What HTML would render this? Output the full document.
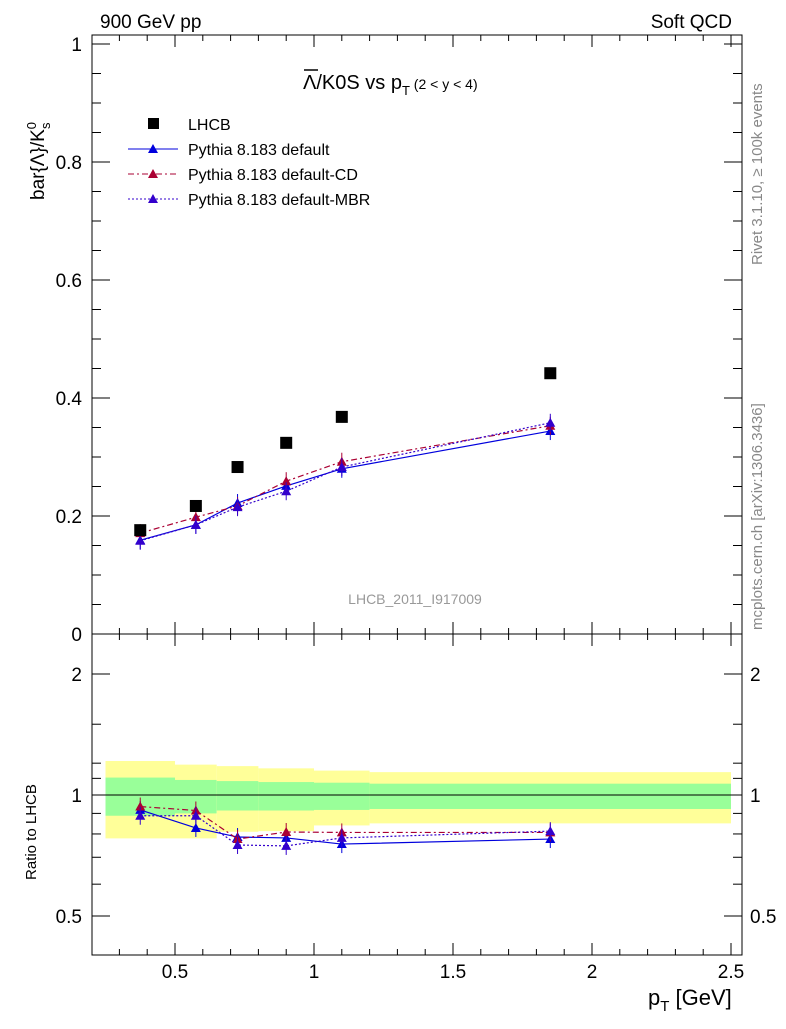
<!DOCTYPE html>
<html><head><meta charset="utf-8"><style>
body{margin:0;background:#fff;}
svg{font-family:"Liberation Sans",sans-serif;}
</style></head><body>
<svg id="c" width="786" height="1024" xmlns="http://www.w3.org/2000/svg"></svg>
<script>
const xCats=[0.375,0.575,0.725,0.9,1.1,1.85];
const lhcb=[0.176,0.217,0.283,0.324,0.368,0.442];
const pyDef=[0.159,0.185,0.222,0.251,0.280,0.344];
const pyCD=[0.171,0.198,0.217,0.259,0.292,0.353];
const pyMBR=[0.158,0.185,0.215,0.242,0.283,0.358];
const rDef=[0.918,0.828,0.786,0.782,0.755,0.777];
const rCD=[0.936,0.915,0.777,0.809,0.807,0.807];
const rMBR=[0.888,0.888,0.751,0.747,0.782,0.813];
const binEdges=[0.25,0.5,0.65,0.8,1.0,1.2,2.5];
const greenHi=[1.105,1.09,1.083,1.077,1.073,1.067];
const greenLo=[0.888,0.90,0.915,0.915,0.918,0.923];
const yellowHi=[1.215,1.19,1.18,1.165,1.15,1.14];
const yellowLo=[0.78,0.78,0.81,0.813,0.84,0.85];
const xTicks=[0.5,1,1.5,2,2.5];
const yTicks=[0,0.2,0.4,0.6,0.8,1];
const rTicks=[0.5,1,2];

const X=v=>36+278*v, Y=v=>634-590*v, R=v=>795-121*Math.log2(v);
const svg=document.getElementById('c');
function el(t,a,txt){const e=document.createElementNS('http://www.w3.org/2000/svg',t);for(const k in a)e.setAttribute(k,a[k]);if(txt!==undefined)e.textContent=txt;svg.appendChild(e);return e;}

for(let i=0;i<6;i++){
 let b=el('rect',{x:X(binEdges[i]),y:R(yellowHi[i]),width:X(binEdges[i+1])-X(binEdges[i]),height:R(yellowLo[i])-R(yellowHi[i]),fill:'#ffff99'});
 
 let g=el('rect',{x:X(binEdges[i]),y:R(greenHi[i]),width:X(binEdges[i+1])-X(binEdges[i]),height:R(greenLo[i])-R(greenHi[i]),fill:'#99ff99'});
 
}
el('line',{x1:92,x2:742,y1:R(1),y2:R(1),stroke:'#000','stroke-width':1});

let f1=el('rect',{x:92,y:35,width:650,height:599,fill:'none',stroke:'#000'});

let f2=el('rect',{x:92,y:634,width:650,height:321,fill:'none',stroke:'#000'});


xTicks.forEach(t=>{
 [[634,-12],[35,12],[955,-12],[634,12]].forEach(([y,d])=>el('line',{x1:X(t),x2:X(t),y1:y,y2:y+d,stroke:'#000'}));
 let l=el('text',{x:X(t),y:978,'font-size':19,'text-anchor':'middle'},String(t));
 
});
for(let v=0.3;v<2.5;v+=0.1){[[634,-6],[35,6],[955,-6],[634,6]].forEach(([y,d])=>el('line',{x1:X(v),x2:X(v),y1:y,y2:y+d,stroke:'#000'}));}
yTicks.forEach(t=>{
 el('line',{x1:92,x2:110,y1:Y(t),y2:Y(t),stroke:'#000'});el('line',{x1:742,x2:724,y1:Y(t),y2:Y(t),stroke:'#000'});
 let l=el('text',{x:82,y:Y(t)+7,'font-size':19,'text-anchor':'end'},t===0||t===1?String(t):t.toFixed(1));
 
});
for(let v=0.05;v<1;v+=0.05){el('line',{x1:92,x2:101,y1:Y(v),y2:Y(v),stroke:'#000'});el('line',{x1:742,x2:733,y1:Y(v),y2:Y(v),stroke:'#000'});}
rTicks.forEach(t=>{
 el('line',{x1:92,x2:110,y1:R(t),y2:R(t),stroke:'#000'});el('line',{x1:742,x2:724,y1:R(t),y2:R(t),stroke:'#000'});
 el('text',{x:82,y:R(t)+7,'font-size':19,'text-anchor':'end'},String(t));
 el('text',{x:750,y:R(t)+7,'font-size':19},String(t));
});
[0.6,0.7,0.8,0.9,1.1,1.2,1.5].forEach(v=>{el('line',{x1:92,x2:101,y1:R(v),y2:R(v),stroke:'#000'});el('line',{x1:742,x2:733,y1:R(v),y2:R(v),stroke:'#000'});});

function series(vals,fy,col,dash,name){
 let p=el('polyline',{points:xCats.map((x,i)=>X(x)+','+fy(vals[i])).join(' '),fill:'none',stroke:col,'stroke-width':1.2,'stroke-dasharray':dash});
 
 xCats.forEach((x,i)=>{const cx=X(x),cy=fy(vals[i]);
  el('line',{x1:cx,x2:cx,y1:cy-9,y2:cy+9,stroke:col});
  let t=el('polygon',{points:`${cx-5},${cy+4} ${cx+5},${cy+4} ${cx},${cy-5}`,fill:col});
  });
}
series(pyDef,Y,'#0000dd','none','pythia-default');
series(pyCD,Y,'#aa0033','6,3,2,3','pythia-cd');
series(pyMBR,Y,'#3300cc','2,2','pythia-mbr');
series(rDef,R,'#0000dd','none','ratio-default');
series(rCD,R,'#aa0033','6,3,2,3','ratio-cd');
series(rMBR,R,'#3300cc','2,2','ratio-mbr');
xCats.forEach((x,i)=>{let s=el('rect',{x:X(x)-6,y:Y(lhcb[i])-6,width:12,height:12,fill:'#000'});
 });

const lg=[['LHCB',null],['Pythia 8.183 default','#0000dd','none'],['Pythia 8.183 default-CD','#aa0033','6,3,2,3'],['Pythia 8.183 default-MBR','#3300cc','2,2']];
lg.forEach((l,i)=>{const y=124+25*i;
 if(!l[1]) el('rect',{x:148,y:y-6,width:11,height:11,fill:'#000'});
 else{el('line',{x1:128,x2:178,y1:y,y2:y,stroke:l[1],'stroke-dasharray':l[2]});el('polygon',{points:`148,${y+4} 158,${y+4} 153,${y-5}`,fill:l[1]});}
 let t=el('text',{x:188,y:y+6,'font-size':16},l[0]);
});

el('text',{x:100,y:28,'font-size':19},'900 GeV pp');
el('text',{x:732,y:28,'font-size':19,'text-anchor':'end'},'Soft QCD');
let ti=el('text',{x:303,y:89,'font-size':20},'');ti.innerHTML='Λ/K0S vs p<tspan font-size="13" dy="6">T</tspan><tspan font-size="14" dy="-6"> (2 &lt; y &lt; 4)</tspan>';

el('line',{x1:304,x2:318,y1:70,y2:70,stroke:'#000','stroke-width':1.5});
let yt=el('text',{transform:'translate(44,200) rotate(-90)','font-size':19},'');yt.innerHTML='bar{Λ}/K<tspan font-size="13" dy="-8">0</tspan><tspan font-size="13" dy="14" dx="-7">s</tspan>';

el('text',{transform:'translate(36,880) rotate(-90)','font-size':15},'Ratio to LHCB');
let xt=el('text',{x:648,y:1005,'font-size':22},'');xt.innerHTML='p<tspan font-size="15" dy="6">T</tspan><tspan dy="-6"> [GeV]</tspan>';

el('text',{x:415,y:604,'font-size':14,'text-anchor':'middle',fill:'#999'},'LHCB_2011_I917009');
el('text',{transform:'translate(762,265) rotate(-90)','font-size':15,fill:'#888'},'Rivet 3.1.10, ≥ 100k events');
el('text',{transform:'translate(762,630) rotate(-90)','font-size':15,fill:'#888'},'mcplots.cern.ch [arXiv:1306.3436]');
</script></body></html>
